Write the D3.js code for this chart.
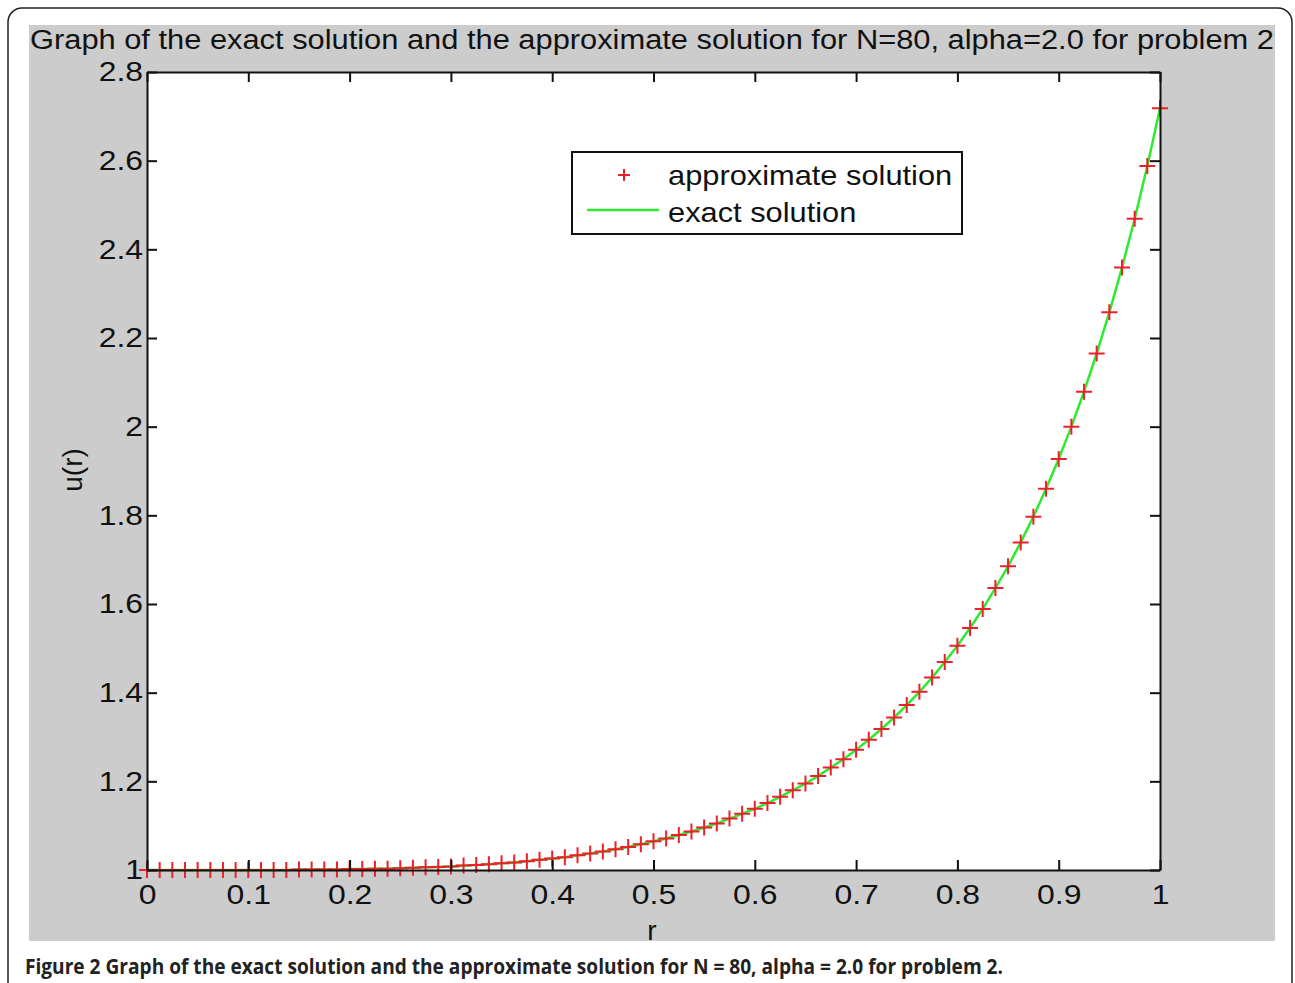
<!DOCTYPE html>
<html>
<head>
<meta charset="utf-8">
<script src="https://cdn.jsdelivr.net/npm/d3@7"></script>
<style>
  body { margin: 0; background: #fff; }
  svg text { font-family: 'Liberation Sans', Arial, sans-serif; }
</style>
</head>
<body>
<div id="chart"></div>
<script>
// r grid, N = 80
const rValues = d3.range(81).map(i => i / 80)

// u(r) (same for markers and line)
const uValues = [
  1.000, 1.000, 1.000, 1.000, 1.000, 1.000, 1.000, 1.000, 1.000, 1.000,
  1.000, 1.000, 1.001, 1.001, 1.001, 1.001, 1.002, 1.002, 1.003, 1.003,
  1.004, 1.005, 1.006, 1.007, 1.008, 1.010, 1.011, 1.013, 1.015, 1.017,
  1.020, 1.023, 1.026, 1.029, 1.033, 1.037, 1.042, 1.047, 1.052, 1.058,
  1.065, 1.071, 1.079, 1.087, 1.096, 1.105, 1.116, 1.127, 1.138, 1.151,
  1.165, 1.180, 1.195, 1.212, 1.231, 1.250, 1.271, 1.294, 1.318, 1.344,
  1.372, 1.402, 1.434, 1.469, 1.506, 1.546, 1.589, 1.636, 1.685, 1.739,
  1.797, 1.860, 1.927, 2.000, 2.079, 2.165, 2.258, 2.359, 2.469, 2.588,
  2.718
]

const xTicks = [0, 0.1, 0.2, 0.3, 0.4, 0.5, 0.6, 0.7, 0.8, 0.9, 1]
const yTicks = [1, 1.2, 1.4, 1.6, 1.8, 2, 2.2, 2.4, 2.6, 2.8]
const legendLabels = ['approximate solution', 'exact solution']

const titleText = 'Graph of the exact solution and the approximate solution for N=80, alpha=2.0 for problem 2'
const captionBold = 'Figure 2'
const captionText = ' Graph of the exact solution and the approximate solution for N = 80, alpha = 2.0 for problem 2.'

// the figure image is a bit wider than tall, so text gets stretched sideways
const stretch = (selection, k) =>
  selection.each(function () {
    const w = this.getComputedTextLength()
    if (w > 0) {
      d3.select(this)
        .attr('textLength', w * k)
        .attr('lengthAdjust', 'spacingAndGlyphs')
    }
  })

class SolutionChart {
  constructor (parentSelector, width, height) {
    this.width = width
    this.height = height
    this.svg = d3.select(parentSelector)
      .append('svg')
      .attr('width', width)
      .attr('height', height)
    this.plot = { left: 147, right: 1160, top: 72, bottom: 870 }
    this.x = d3.scaleLinear().domain([0, 1]).range([this.plot.left, this.plot.right])
    this.y = d3.scaleLinear().domain([1, 2.8]).range([this.plot.bottom, this.plot.top])
    this.tickLen = 10
    this.red = '#ee1f2a'
    this.green = '#2eea2e'
    this.k = 1.14
  }

  create () {
    const svg = this.svg
    const p = this.plot

    // outer frame + grey figure area
    svg.append('rect')
      .attr('x', 8).attr('y', 8)
      .attr('width', 1284).attr('height', 1000)
      .attr('rx', 14)
      .attr('fill', '#fff').attr('stroke', '#222').attr('stroke-width', 1.5)
    svg.append('rect')
      .attr('x', 29).attr('y', 25)
      .attr('width', 1246).attr('height', 916)
      .attr('fill', '#cccccc')

    svg.append('text')
      .attr('x', 30).attr('y', 49)
      .attr('font-size', 27)
      .attr('textLength', 1244)
      .attr('lengthAdjust', 'spacingAndGlyphs')
      .attr('fill', '#111')
      .text(titleText)

    svg.append('rect')
      .attr('x', p.left).attr('y', p.top)
      .attr('width', p.right - p.left).attr('height', p.bottom - p.top)
      .attr('fill', '#fff')

    // exact solution line
    const line = d3.line()
      .x((d, i) => this.x(rValues[i]))
      .y(d => this.y(d))
    svg.append('path')
      .datum(uValues)
      .attr('fill', 'none')
      .attr('stroke', this.green)
      .attr('stroke-width', 2.5)
      .attr('d', line)

    // approximate solution markers
    const plus = 'M-8,0H8M0,-8V8'
    svg.append('g')
      .selectAll('path')
      .data(uValues)
      .enter()
      .append('path')
      .attr('transform', (d, i) => `translate(${this.x(rValues[i])},${this.y(d)})`)
      .attr('d', plus)
      .attr('stroke', this.red)
      .attr('stroke-width', 2)
      .attr('fill', 'none')

    // axes, matlab style: ticks inside on all four sides
    const fmt = d => d3.format('~g')(d)
    const xAxisB = d3.axisBottom(this.x).tickValues(xTicks).tickFormat(fmt)
      .tickSizeInner(-this.tickLen).tickSizeOuter(0).tickPadding(14)
    const xAxisT = d3.axisTop(this.x).tickValues(xTicks).tickFormat('')
      .tickSizeInner(-this.tickLen).tickSizeOuter(0)
    const yAxisL = d3.axisLeft(this.y).tickValues(yTicks).tickFormat(fmt)
      .tickSizeInner(-this.tickLen).tickSizeOuter(0).tickPadding(4)
    const yAxisR = d3.axisRight(this.y).tickValues(yTicks).tickFormat('')
      .tickSizeInner(-this.tickLen).tickSizeOuter(0)

    const styleAxis = g => {
      g.select('.domain').attr('stroke', '#111').attr('stroke-width', 2)
      g.selectAll('.tick line').attr('stroke', '#111').attr('stroke-width', 2)
      g.selectAll('.tick text')
        .attr('font-size', 28)
        .attr('font-family', "'Liberation Sans', Arial, sans-serif")
        .attr('fill', '#111')
        .call(stretch, this.k)
    }

    svg.append('g').attr('transform', `translate(0,${p.bottom})`).call(xAxisB).call(styleAxis)
    svg.append('g').attr('transform', `translate(0,${p.top})`).call(xAxisT).call(styleAxis)
    svg.append('g').attr('transform', `translate(${p.left},0)`).call(yAxisL).call(styleAxis)
    svg.append('g').attr('transform', `translate(${p.right},0)`).call(yAxisR).call(styleAxis)

    // axis titles
    svg.append('text')
      .attr('x', 652).attr('y', 940)
      .attr('text-anchor', 'middle')
      .attr('font-size', 28)
      .attr('fill', '#111')
      .text('r')
    svg.append('text')
      .attr('transform', 'translate(82,470) rotate(-90)')
      .attr('text-anchor', 'middle')
      .attr('font-size', 28)
      .attr('fill', '#111')
      .text('u(r)')

    // legend
    const lg = svg.append('g').attr('transform', 'translate(572,152)')
    lg.append('rect')
      .attr('width', 390).attr('height', 82)
      .attr('fill', '#fff').attr('stroke', '#111').attr('stroke-width', 2)
    lg.append('path')
      .attr('transform', 'translate(52,23)')
      .attr('d', 'M-6,0H6M0,-6V6')
      .attr('stroke', this.red).attr('stroke-width', 2)
    lg.append('line')
      .attr('x1', 15).attr('x2', 87).attr('y1', 58).attr('y2', 58)
      .attr('stroke', this.green).attr('stroke-width', 2.5)
    lg.selectAll('text.lab')
      .data(legendLabels)
      .enter()
      .append('text')
      .attr('class', 'lab')
      .attr('x', 96)
      .attr('y', (d, i) => 33 + i * 37)
      .attr('font-size', 28)
      .attr('fill', '#111')
      .text(d => d)
      .call(stretch, 1.1)

    // caption
    const cap = svg.append('text')
      .attr('x', 25).attr('y', 974)
      .attr('font-size', 21)
      .attr('font-weight', 'bold')
      .attr('fill', '#222')
      .attr('textLength', 978)
      .attr('lengthAdjust', 'spacingAndGlyphs')
      .style('font-family', "'Liberation Sans Narrow', 'Open Sans', sans-serif")
    cap.append('tspan').text(captionBold)
    cap.append('tspan').text(captionText)
  }
}

const chart = new SolutionChart('#chart', 1295, 983)
chart.create()
</script>
</body>
</html>
